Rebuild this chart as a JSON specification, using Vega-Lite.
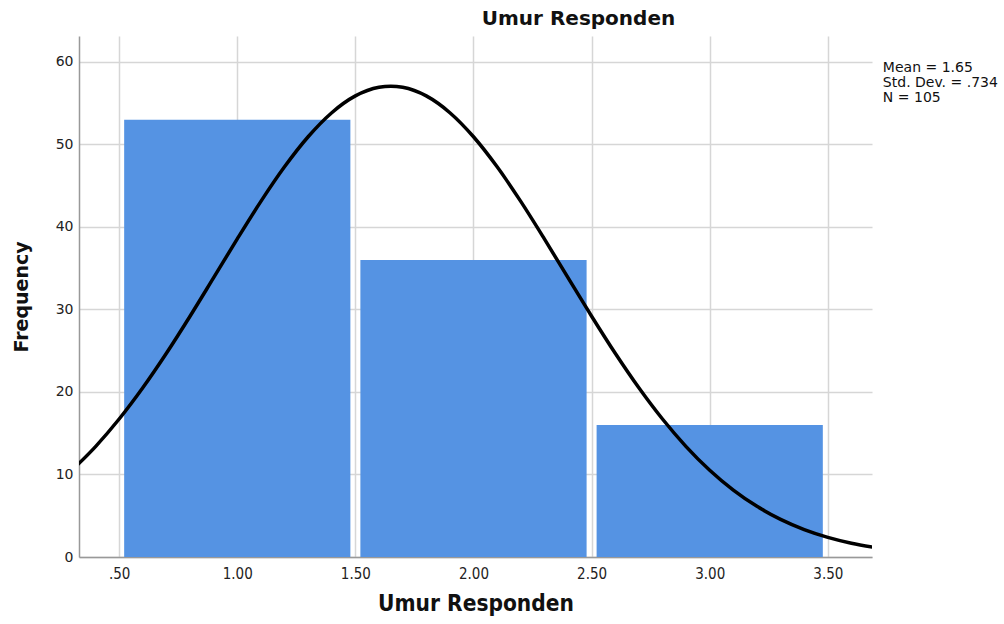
{
  "$schema": "https://vega.github.io/schema/vega-lite/v6.json",
  "width": 793,
  "height": 521,
  "autosize": "none",
  "padding": {"left": 79, "top": 36, "right": 132, "bottom": 67},
  "background": "white",
  "title": {"text": "Umur Responden", "font": "DejaVu Sans", "fontSize": 20, "fontWeight": "bold", "color": "#111", "anchor": "middle", "dx": 103, "offset": 7},
  "config": {"view": {"stroke": null}},
  "datasets": {
    "bars": [
      {"bin_start": 0.5, "bin_end": 1.5, "count": 53},
      {"bin_start": 1.5, "bin_end": 2.5, "count": 36},
      {"bin_start": 2.5, "bin_end": 3.5, "count": 16}
    ],
    "curve": [
      {"x": 0.3, "y": 10.517}, {"x": 0.4, "y": 13.385}, {"x": 0.5, "y": 16.725}, {"x": 0.6, "y": 20.513},
      {"x": 0.7, "y": 24.696}, {"x": 0.8, "y": 29.187}, {"x": 0.9, "y": 33.86}, {"x": 1.0, "y": 38.558},
      {"x": 1.1, "y": 43.101}, {"x": 1.2, "y": 47.291}, {"x": 1.3, "y": 50.936}, {"x": 1.4, "y": 53.853},
      {"x": 1.5, "y": 55.89}, {"x": 1.6, "y": 56.937}, {"x": 1.65, "y": 57.069}, {"x": 1.7, "y": 56.937},
      {"x": 1.8, "y": 55.89}, {"x": 1.9, "y": 53.853}, {"x": 2.0, "y": 50.936}, {"x": 2.1, "y": 47.291},
      {"x": 2.2, "y": 43.101}, {"x": 2.3, "y": 38.558}, {"x": 2.4, "y": 33.86}, {"x": 2.5, "y": 29.187},
      {"x": 2.6, "y": 24.696}, {"x": 2.7, "y": 20.513}, {"x": 2.8, "y": 16.725}, {"x": 2.9, "y": 13.385},
      {"x": 3.0, "y": 10.517}, {"x": 3.1, "y": 8.108}, {"x": 3.2, "y": 6.138}, {"x": 3.3, "y": 4.561},
      {"x": 3.4, "y": 3.327}, {"x": 3.5, "y": 2.382}, {"x": 3.6, "y": 1.674}, {"x": 3.7, "y": 1.155}
    ],
    "stats": [
      {"label": ["Mean = 1.65", "Std. Dev. = .734", "N = 105"], "px": 3.733, "py": 60.1}
    ]
  },
  "layer": [
    {
      "data": {"name": "bars"},
      "mark": {"type": "rect", "color": "#5593e3", "xOffset": 5, "x2Offset": -5},
      "encoding": {
        "x": {
          "field": "bin_start", "type": "quantitative",
          "scale": {"domain": [0.33, 3.687], "nice": false, "zero": false},
          "axis": {
            "values": [0.5, 1.0, 1.5, 2.0, 2.5, 3.0, 3.5],
            "labelExpr": "datum.value == 0.5 ? '.50' : format(datum.value, '.2f')",
            "title": "Umur Responden",
            "titleFont": "DejaVu Sans Condensed", "titleFontSize": 22.5, "titleFontWeight": "bold", "titleColor": "#111", "titlePadding": 11,
            "labelFont": "DejaVu Sans Condensed", "labelFontSize": 15, "labelColor": "#222", "labelPadding": 9,
            "ticks": false, "domainColor": "#999", "domainWidth": 1.5,
            "grid": true, "gridColor": "#d6d6d6", "gridWidth": 1.5
          }
        },
        "x2": {"field": "bin_end"},
        "y": {
          "field": "count", "type": "quantitative",
          "scale": {"domain": [0, 63.15], "nice": false},
          "axis": {
            "values": [0, 10, 20, 30, 40, 50, 60],
            "title": "Frequency",
            "titleFont": "DejaVu Sans", "titleFontSize": 19, "titleFontWeight": "bold", "titleColor": "#111", "titlePadding": 24,
            "labelFont": "DejaVu Sans", "labelFontSize": 14, "labelColor": "#222", "labelPadding": 6,
            "ticks": false, "domainColor": "#999", "domainWidth": 1.5,
            "grid": true, "gridColor": "#d6d6d6", "gridWidth": 1.5
          }
        },
        "y2": {"datum": 0}
      }
    },
    {
      "data": {"name": "curve"},
      "mark": {"type": "line", "color": "black", "strokeWidth": 3.5, "interpolate": "monotone", "clip": true},
      "encoding": {
        "x": {"field": "x", "type": "quantitative"},
        "y": {"field": "y", "type": "quantitative"}
      }
    },
    {
      "data": {"name": "stats"},
      "mark": {"type": "text", "align": "left", "baseline": "top", "font": "DejaVu Sans", "fontSize": 14, "lineHeight": 15, "color": "#111"},
      "encoding": {
        "x": {"field": "px", "type": "quantitative"},
        "y": {"field": "py", "type": "quantitative"},
        "text": {"field": "label"}
      }
    }
  ]
}
